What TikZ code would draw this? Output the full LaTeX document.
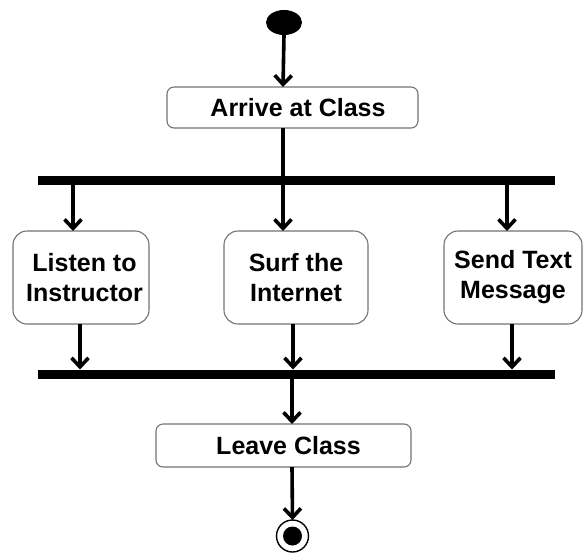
\documentclass[tikz,border=0pt]{standalone}
\usepackage{fontspec}
\setmainfont{Liberation Sans}
\usetikzlibrary{arrows.meta,shapes.geometric}
\begin{document}
\begin{tikzpicture}[x=1pt,y=-1pt,
  every node/.style={inner sep=0pt,outer sep=0pt},
  action/.style={draw=black!55,line width=1.1pt,fill=white,
    font=\fontsize{25}{30}\selectfont\bfseries,align=center},
  wide/.style={action,rounded corners=7pt},
  tall/.style={action,rounded corners=14pt},
  bar/.style={fill=black,draw=none,minimum width=517pt,minimum height=9pt},
  flow/.style={line width=3.6pt,-{Straight Barb[length=9pt,width=17pt]}}]
\useasboundingbox (0,0) rectangle (583,552);

% initial and final states
\node[ellipse,fill=black,minimum width=36pt,minimum height=25pt] (start) at (284,22.5) {};
\node[circle,draw=black,line width=1.4pt,fill=white,minimum size=32pt] (final) at (292.5,536) {};
\node[circle,fill=black,minimum size=19pt] (finaldot) at (final.center) {};

% actions
\node[wide,minimum width=251pt,minimum height=41pt] (arrive) at (292.5,107.5) {\hspace{11pt}Arrive at Class};
\node[tall,minimum width=136pt,minimum height=93pt] (listen) at (81,277.5) {\hspace{7pt}Listen to\\\hspace{7pt}Instructor};
\node[tall,minimum width=144pt,minimum height=93pt] (surf) at (296,277.5) {Surf the\\Internet};
\node[tall,minimum width=138pt,minimum height=93pt] (send) at (513,277.5) {Send Text\\Message};
\node[wide,minimum width=255pt,minimum height=43pt] (leave) at (283.5,445.5) {\hspace{10pt}Leave Class};

% fork and join bars
\node[bar] (fork) at (296.5,180.5) {};
\node[bar] (join) at (296.5,374) {};

% control flow
\draw[flow] (start.south) -- ([xshift=-1pt]start.south |- arrive.north);
\draw[line width=3.6pt] ([xshift=-9.5pt]arrive.south) -- ([xshift=-9.5pt]arrive.south |- fork.north);

\draw[flow] ([xshift=-8pt]listen.north |- fork.south) -- ([xshift=-8pt]listen.north);
\draw[flow] ([xshift=-13pt]surf.north |- fork.south) -- ([xshift=-13pt]surf.north);
\draw[flow] ([xshift=-6pt]send.north |- fork.south) -- ([xshift=-6pt]send.north);

\draw[flow] ([xshift=-1pt]listen.south) -- ([xshift=-1pt]listen.south |- join.north);
\draw[flow] ([xshift=-3pt]surf.south) -- ([xshift=-3pt]surf.south |- join.north);
\draw[flow] ([xshift=-1pt]send.south) -- ([xshift=-1pt]send.south |- join.north);

\draw[flow] ([xshift=8.5pt]leave.north |- join.south) -- ([xshift=8.5pt]leave.north);
\draw[flow] ([xshift=8.5pt]leave.south) -- (final.north);
\end{tikzpicture}
\end{document}
